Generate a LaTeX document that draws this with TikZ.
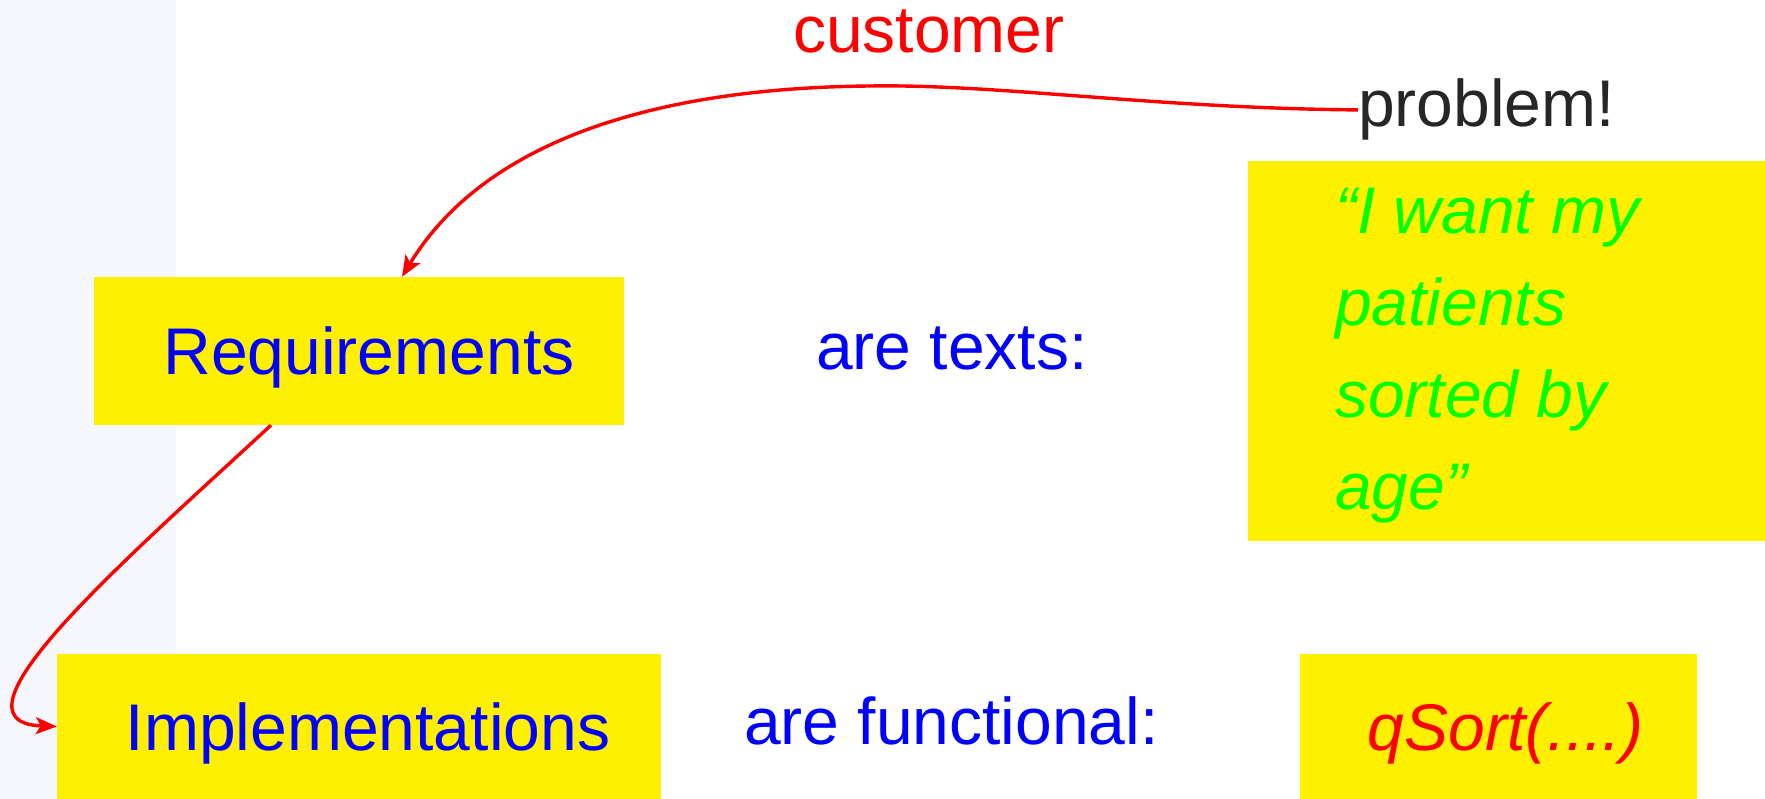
\documentclass[tikz,border=0pt]{standalone}
\usepackage{fontspec}
\setmainfont{Liberation Sans}
\usetikzlibrary{arrows.meta}
\definecolor{hiyellow}{HTML}{FFEF00}
\definecolor{stripgray}{HTML}{F5F7FC}
\definecolor{probgray}{HTML}{262626}
\begin{document}
\begin{tikzpicture}[x=1pt,y=-1pt,
  big/.style={font=\fontsize{66}{79}\selectfont, inner sep=0pt},
  ybox/.style={fill=hiyellow, draw=none, inner sep=0pt, text height=47pt, text depth=0pt},
  link/.style={draw=red, line width=3.4pt, -{Stealth[length=21pt,width=17pt,inset=5pt]}}
]
\useasboundingbox (0,0) rectangle (1765,799);
% side strip
\fill[stripgray] (0,0) rectangle (176,799);

% yellow boxes
\node[ybox, big, text=blue, minimum width=530pt, minimum height=148pt] (req) at (359,351) {\hspace*{20pt}Requirements};
\node[ybox, big, text=blue, minimum width=604pt, minimum height=145pt] (impl) at (359,726.5) {\hspace*{18pt}Implementations};
\node[ybox, big, text=red, minimum width=397pt, minimum height=145pt] (qs) at (1498.5,726.5) {\hspace*{14pt}\itshape qSort(....)};
\node[fill=hiyellow, inner sep=0pt, minimum width=517pt, minimum height=380pt, anchor=north west] (quote) at (1248,161) {};
\node[inner sep=0pt, text=green, align=left, anchor=north west, font=\fontsize{66}{92}\selectfont\itshape] (wish) at (1335,188) {“I want my\\patients\\sorted by\\age”};

% free labels
\node[big, text=red, anchor=base west] (cust) at (793,53) {customer};
\node[big, text=probgray, anchor=base west] (prob) at (1358,127) {problem!};
\node[big, text=blue, anchor=base west] (texts) at (816,370) {are texts:};
\node[big, text=blue, anchor=base west] (func) at (744,744) {are functional:};

% connectors
\draw[link] (prob.west) .. controls (1150,108) and (1000,84) .. (870,86)
  .. controls (640,88) and (480,148) .. ([xshift=43pt]req.north);
\draw[link] ([xshift=-88pt]req.south) .. controls (125,560) and (-62,722) .. (impl.west);
\end{tikzpicture}
\end{document}
